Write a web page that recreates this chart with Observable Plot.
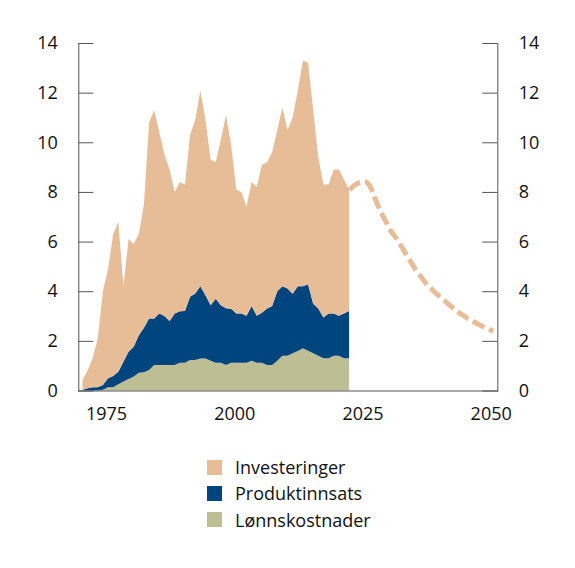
<!DOCTYPE html>
<html>
<head>
<meta charset="utf-8">
<script src="https://cdn.jsdelivr.net/npm/d3@7"></script>
<script src="https://cdn.jsdelivr.net/npm/@observablehq/plot@0.6"></script>
<style>
  body { margin: 0; background: white; font-family: "Open Sans", sans-serif; }
  #legend { margin-top: 14px; padding-left: 207px; }
  .row { display: flex; align-items: center; height: 26.3px; font-size: 18px; color: #111; }
  .sw { width: 15px; height: 15px; margin-right: 13px; }
</style>
</head>
<body>
<div id="chart"></div>
<div id="legend"></div>
<script>
// historiske år 1970-2022
const years = d3.range(1970, 2023);

const lonnskostnader = [
  0, 0, 0, 0, 0.03, 0.13, 0.13, 0.25, 0.36, 0.46,
  0.56, 0.72, 0.74, 0.83, 1.03, 1.03, 1.03, 1.03, 1.03, 1.12,
  1.12, 1.23, 1.23, 1.29, 1.29, 1.2, 1.12, 1.12, 1.03, 1.12,
  1.12, 1.12, 1.12, 1.2, 1.12, 1.12, 1.03, 1.03, 1.2, 1.4,
  1.4, 1.5, 1.59, 1.7, 1.6, 1.5, 1.4, 1.3, 1.3, 1.4,
  1.4, 1.3, 1.3
];

const produktinnsats = [
  0.02, 0.09, 0.13, 0.13, 0.19, 0.36, 0.45, 0.51, 0.8, 1.1,
  1.2, 1.51, 1.79, 2.07, 1.87, 2.07, 1.97, 1.77, 2.07, 2.07,
  2.08, 2.55, 2.68, 2.91, 2.55, 2.23, 2.58, 2.31, 2.28, 2.17,
  1.98, 1.98, 1.89, 2.2, 1.89, 2.01, 2.27, 2.37, 2.8, 2.8,
  2.71, 2.4, 2.61, 2.5, 2.68, 2.0, 1.9, 1.64, 1.8, 1.7,
  1.61, 1.8, 1.9
];

const investeringer = [
  0.4, 0.71, 1.17, 1.97, 3.78, 4.41, 5.72, 6.04, 3.04, 4.54,
  4.14, 4.07, 4.97, 7.9, 8.4, 7.3, 6.5, 6.1, 4.9, 5.21,
  5.1, 6.52, 6.99, 7.9, 7.06, 5.87, 5.5, 6.67, 7.79, 6.61,
  5.0, 4.9, 4.39, 5.0, 5.19, 5.97, 5.9, 6.2, 6.5, 7.2,
  6.39, 7.1, 7.9, 9.1, 8.92, 7.8, 6.1, 5.36, 5.2, 5.8,
  5.89, 5.4, 4.9
];

// framskriving 2022-2050
const projYears = d3.range(2022, 2051);
const projValues = [
  8.1, 8.3, 8.4, 8.43, 8.24, 7.73, 7.26, 6.86, 6.46, 6.19,
  5.86, 5.52, 5.18, 4.85, 4.58, 4.31, 4.11, 3.91, 3.74, 3.55,
  3.37, 3.2, 3.07, 2.93, 2.82, 2.7, 2.6, 2.5, 2.41
];

const series = ["Lønnskostnader", "Produktinnsats", "Investeringer"];
const colors = ["#bdbe93", "#00457e", "#e7bd98"];
const yTicks = [0, 2, 4, 6, 8, 10, 12, 14];
const xTicks = [1975, 2000, 2025, 2050];

const hist = [];
years.forEach((yr, i) => {
  hist.push({year: yr, serie: series[0], value: lonnskostnader[i]});
  hist.push({year: yr, serie: series[1], value: produktinnsats[i]});
  hist.push({year: yr, serie: series[2], value: investeringer[i]});
});
const proj = projYears.map((yr, i) => ({year: yr, value: projValues[i]}));

const W = 575, H = 440, mL = 78.3, mR = 77.7;
const inner = W - mL - mR;

let chart = Plot.plot({
  width: W,
  height: H,
  marginLeft: mL,
  marginRight: mR,
  marginTop: 43,
  marginBottom: 49.5,
  style: {fontFamily: "Open Sans, sans-serif", fontSize: "18px", color: "#111"},
  x: {domain: [1969.2, 2050.9]},
  y: {domain: [0, 14]},
  color: {domain: series, range: colors},
  marks: [
    Plot.areaY(hist, {x: "year", y: "value", fill: "serie", order: series}),
    Plot.lineY(proj, {x: "year", y: "value", stroke: colors[2], strokeWidth: 5,
      strokeDasharray: "13,5", strokeLinecap: "butt", strokeLinejoin: "miter",
      curve: "monotone-x"}),
    Plot.frame({anchor: "left", stroke: "#555"}),
    Plot.frame({anchor: "right", stroke: "#555"}),
    Plot.frame({anchor: "bottom", stroke: "#555"}),
    Plot.tickY(yTicks, {y: d => d, stroke: "#555", insetRight: inner - 15}),
    Plot.tickY(yTicks, {y: d => d, stroke: "#555", insetLeft: inner - 15}),
    Plot.axisY(yTicks, {anchor: "left", tickSize: 0, tickPadding: 21, label: null}),
    Plot.axisY(yTicks, {anchor: "right", tickSize: 0, tickPadding: 21, label: null}),
    Plot.axisX(xTicks, {anchor: "bottom", tickSize: 0, tickPadding: 16, dx: -2,
      tickFormat: d => String(d), label: null})
  ]
});
d3.select("#chart").append(() => chart);

const legendOrder = [2, 1, 0];
const leg = d3.select("#legend");
legendOrder.forEach(i => {
  const r = leg.append("div").attr("class", "row");
  r.append("div").attr("class", "sw").style("background", colors[i]);
  r.append("span").text(series[i]);
});
</script>
</body>
</html>
